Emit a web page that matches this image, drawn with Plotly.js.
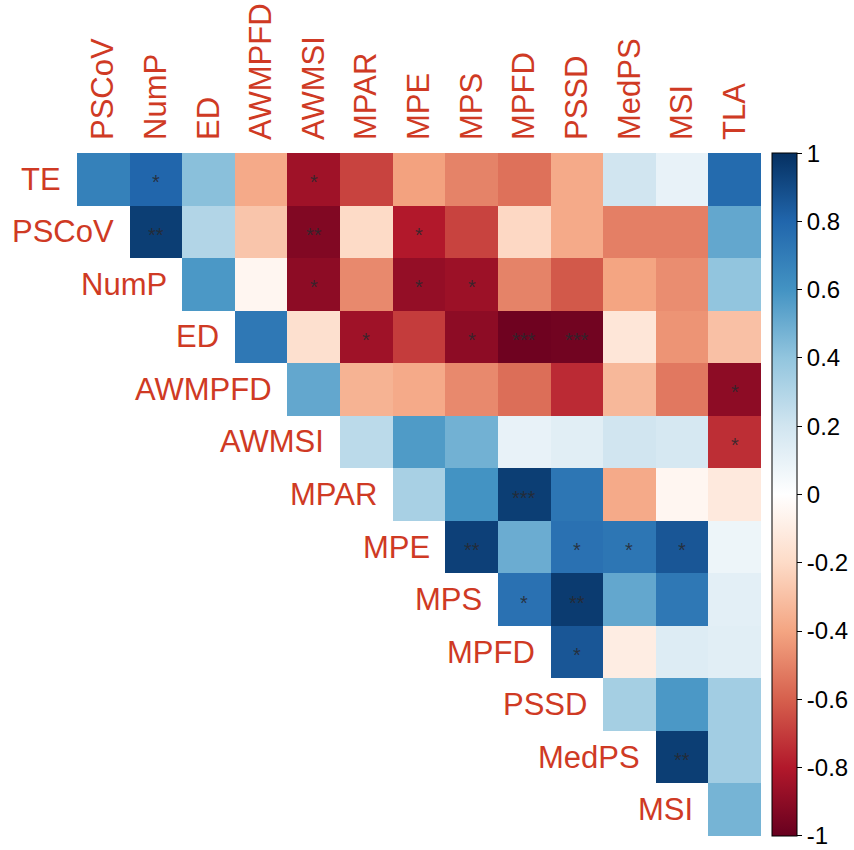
<!DOCTYPE html>
<html>
<head>
<meta charset="utf-8">
<script src="https://cdn.plot.ly/plotly-3.0.1.min.js"></script>
<style>html,body{margin:0;padding:0;background:#fff;}#chart{width:854px;height:850px;}</style>
</head>
<body>
<div id="chart"></div>
<script>
const rowLabels = ["TE","PSCoV","NumP","ED","AWMPFD","AWMSI","MPAR","MPE","MPS","MPFD","PSSD","MedPS","MSI"];
const colLabels = ["PSCoV","NumP","ED","AWMPFD","AWMSI","MPAR","MPE","MPS","MPFD","PSSD","MedPS","MSI","TLA"];

// correlation values per row, starting at the diagonal column (row i starts at column i)
const rTE     = [0.68, 0.80, 0.42, -0.38, -0.85, -0.68, -0.41, -0.50, -0.55, -0.38, 0.20, 0.10, 0.78];
const rPSCoV  = [0.95, 0.30, -0.28, -0.93, -0.20, -0.80, -0.68, -0.21, -0.38, -0.51, -0.51, 0.52];
const rNumP   = [0.58, -0.05, -0.90, -0.48, -0.88, -0.86, -0.50, -0.62, -0.40, -0.47, 0.40];
const rED     = [0.72, -0.17, -0.85, -0.70, -0.90, -0.98, -0.97, -0.14, -0.45, -0.30];
const rAWMPFD = [0.52, -0.35, -0.38, -0.48, -0.56, -0.75, -0.33, -0.53, -0.90];
const rAWMSI  = [0.27, 0.57, 0.48, 0.10, 0.13, 0.20, 0.18, -0.74];
const rMPAR   = [0.33, 0.60, 0.95, 0.73, -0.38, -0.05, -0.12];
const rMPE    = [0.94, 0.50, 0.75, 0.73, 0.86, 0.08];
const rMPS    = [0.75, 0.96, 0.52, 0.72, 0.12];
const rMPFD   = [0.86, -0.10, 0.15, 0.13];
const rPSSD   = [0.34, 0.58, 0.35];
const rMedPS  = [0.95, 0.35];
const rMSI    = [0.47];

// significance marks, same layout
const sTE     = ["", "*", "", "", "*", "", "", "", "", "", "", "", ""];
const sPSCoV  = ["**", "", "", "**", "", "*", "", "", "", "", "", ""];
const sNumP   = ["", "", "*", "", "*", "*", "", "", "", "", ""];
const sED     = ["", "", "*", "", "*", "***", "***", "", "", ""];
const sAWMPFD = ["", "", "", "", "", "", "", "", "*"];
const sAWMSI  = ["", "", "", "", "", "", "", "*"];
const sMPAR   = ["", "", "***", "", "", "", ""];
const sMPE    = ["**", "", "*", "*", "*", ""];
const sMPS    = ["*", "**", "", "", ""];
const sMPFD   = ["*", "", "", ""];
const sPSSD   = ["", "", ""];
const sMedPS  = ["**", ""];
const sMSI    = [""];

const cbTickVals = [-1, -0.8, -0.6, -0.4, -0.2, 0, 0.2, 0.4, 0.6, 0.8, 1];
const cbTickText = ["-1", "-0.8", "-0.6", "-0.4", "-0.2", "0", "0.2", "0.4", "0.6", "0.8", "1"];

const rowVals = [rTE, rPSCoV, rNumP, rED, rAWMPFD, rAWMSI, rMPAR, rMPE, rMPS, rMPFD, rPSSD, rMedPS, rMSI];
const rowSig  = [sTE, sPSCoV, sNumP, sED, sAWMPFD, sAWMSI, sMPAR, sMPE, sMPS, sMPFD, sPSSD, sMedPS, sMSI];

const n = colLabels.length;
const z = [];
const annotations = [];
const labelColor = "#CF3A24";
for (let i = 0; i < rowLabels.length; i++) {
  const row = new Array(n).fill(null);
  rowVals[i].forEach((v, k) => { row[i + k] = v; });
  z.push(row);
  rowSig[i].forEach((s, k) => {
    if (s) {
      annotations.push({
        x: colLabels[i + k], y: rowLabels[i], xref: "x", yref: "y",
        text: s, showarrow: false,
        font: {family: "Liberation Sans, Arial, sans-serif", size: 20, color: "rgba(40,40,45,0.85)"},
        yshift: -3
      });
    }
  });
  annotations.push({
    x: colLabels[i], y: rowLabels[i], xref: "x", yref: "y",
    text: rowLabels[i], showarrow: false, xanchor: "right",
    xshift: -40,
    font: {family: "Liberation Sans, Arial, sans-serif", size: 31, color: labelColor}
  });
}

const colorscale = [
  [0.0, "#67001F"], [0.1, "#B2182B"], [0.2, "#D6604D"], [0.3, "#F4A582"], [0.4, "#FDDBC7"],
  [0.5, "#FFFFFF"], [0.6, "#D1E5F0"], [0.7, "#92C5DE"], [0.8, "#4393C3"], [0.9, "#2166AC"], [1.0, "#053061"]
];

const trace = {
  type: "heatmap",
  x: colLabels,
  y: rowLabels,
  z: z,
  zmin: -1.0005, zmax: 1.0005,
  colorscale: colorscale,
  hoverongaps: false,
  colorbar: {
    x: 1.016, xanchor: "left", xpad: 0, ypad: 0,
    y: 0.5, yanchor: "middle", len: 1, lenmode: "fraction",
    thickness: 25, outlinewidth: 1, outlinecolor: "#000",
    tickmode: "array", tickvals: cbTickVals, ticktext: cbTickText,
    ticks: "outside", ticklen: 5, tickcolor: "#000", tickwidth: 1,
    ticklabeloverflow: "allow",
    tickfont: {family: "Liberation Sans, Arial, sans-serif", size: 24, color: "#000"}
  }
};

const layout = {
  width: 854, height: 850,
  margin: {l: 77, r: 93, t: 153, b: 14, autoexpand: false},
  paper_bgcolor: "#fff", plot_bgcolor: "#fff",
  xaxis: {
    side: "top", tickangle: -90, showgrid: false, zeroline: false, showline: false,
    ticks: "", ticklabelstandoff: 12, automargin: false,
    range: [-0.5, n - 0.5], autorange: false,
    tickfont: {family: "Liberation Sans, Arial, sans-serif", size: 31, color: labelColor},
    fixedrange: true
  },
  yaxis: {
    range: [rowLabels.length - 0.5, -0.5], autorange: false,
    showgrid: false, zeroline: false, showline: false,
    showticklabels: false, ticks: "", fixedrange: true, automargin: false
  },
  annotations: annotations,
  showlegend: false
};

Plotly.newPlot("chart", [trace], layout, {displayModeBar: false, staticPlot: true});
</script>
</body>
</html>
